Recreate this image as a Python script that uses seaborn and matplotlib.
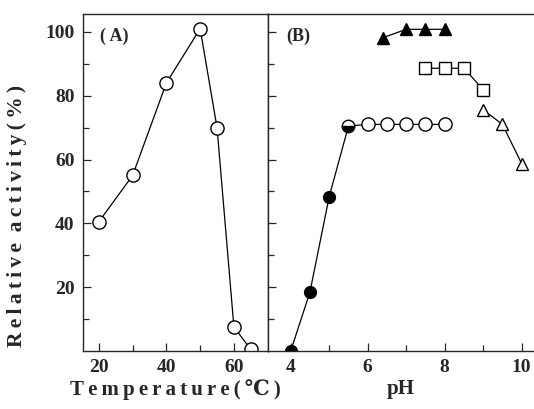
import matplotlib
matplotlib.use("Agg")
import matplotlib.pyplot as plt
import seaborn as sns

# Panel A: temperature profile
temp = [20, 30, 40, 50, 55, 60, 65]
temp_act = [40.5, 55, 84, 101, 70, 7.5, 0.5]

# Panel B: pH profile, one list per buffer
ph_filled = [4, 4.5, 5, 5.5]
act_filled = [0, 18.5, 48.4, 70.5]
ph_open = [5.5, 6, 6.5, 7, 7.5, 8]
act_open = [71, 71, 71, 71, 71, 71]
ph_tri_f = [6.4, 7, 7.5, 8]
act_tri_f = [98.2, 100.8, 100.8, 100.8]
ph_sq = [7.5, 8, 8.5, 9]
act_sq = [88.6, 88.6, 88.6, 81.9]
ph_tri_o = [9, 9.5, 10]
act_tri_o = [75.6, 71, 58.7]


def spaced(s, gap="\u2009"):
    # the printed labels are letter-spaced
    return gap.join(s)


sns.set_style("ticks")
plt.rcParams['font.family'] = ['Liberation Serif', 'DejaVu Serif']
plt.rcParams['font.weight'] = 'bold'

fig = plt.figure(figsize=(5.34, 4.09), dpi=100)
ax1 = fig.add_axes([0.1554, 0.1418, 0.3465, 0.824])
ax2 = fig.add_axes([0.5019, 0.1418, 0.4981, 0.824])

lw = 0.9
mk = dict(markeredgecolor='black', markeredgewidth=1.0)

# (A)
sns.lineplot(x=temp, y=temp_act, ax=ax1, color='black', lw=lw,
             marker='o', markersize=9.5, markerfacecolor='white', **mk)
ax1.set_xlim(15.3, 70.1)
ax1.set_ylim(0, 105.6)
ax1.set_xticks([20, 40, 60])
ax1.set_xticks([30, 50], minor=True)
ax1.set_yticks([20, 40, 60, 80, 100])
ax1.set_yticks([10, 30, 50, 70, 90], minor=True)
ax1.set_xlabel(spaced("Temperature(℃)"), fontsize=15, fontweight='bold', labelpad=2)
ax1.set_ylabel(spaced("Relative") + "  " + spaced("activity(%)"),
               fontsize=15.5, fontweight='bold')
ax1.yaxis.set_label_coords(-0.30, 0.40)
ax1.text(0.09, 0.935, "( A)", transform=ax1.transAxes, fontsize=13,
         fontweight='bold', va='center')

# (B)
sns.lineplot(x=ph_filled + ph_open[1:], y=act_filled + act_open[1:], ax=ax2,
             color='black', lw=lw)
sns.lineplot(x=ph_filled[:-1], y=act_filled[:-1], ax=ax2, color='black',
             linestyle='none', marker='o', markersize=8.5, markerfacecolor='black', **mk)
sns.lineplot(x=ph_filled[-1:], y=act_filled[-1:], ax=ax2, color='black',
             linestyle='none', marker='o', markersize=9, markerfacecolor='black',
             fillstyle='bottom', markerfacecoloralt='white', **mk)
sns.lineplot(x=ph_open[1:], y=act_open[1:], ax=ax2, color='black',
             linestyle='none', marker='o', markersize=9.5, markerfacecolor='white', **mk)
sns.lineplot(x=ph_tri_f, y=act_tri_f, ax=ax2, color='black', lw=lw,
             marker='^', markersize=8, markerfacecolor='black', **mk)
sns.lineplot(x=ph_sq, y=act_sq, ax=ax2, color='black', lw=lw,
             marker='s', markersize=8.5, markerfacecolor='white', **mk)
sns.lineplot(x=ph_tri_o, y=act_tri_o, ax=ax2, color='black', lw=lw,
             marker='^', markersize=9, markerfacecolor='white', **mk)
ax2.set_xlim(3.41, 10.32)
ax2.set_ylim(0, 105.6)
ax2.set_xticks([4, 6, 8, 10])
ax2.set_xticks([5, 7, 9], minor=True)
ax2.set_yticks([20, 40, 60, 80, 100])
ax2.set_yticks([10, 30, 50, 70, 90], minor=True)
ax2.set_yticklabels([])
ax2.set_xlabel("pH", fontsize=15, fontweight='bold', labelpad=2)
ax2.set_ylabel("")
ax2.spines['right'].set_visible(False)
ax2.text(0.07, 0.935, "(B)", transform=ax2.transAxes, fontsize=13,
         fontweight='bold', va='center')

for ax in (ax1, ax2):
    for s in ax.spines.values():
        s.set_linewidth(1.0)
    ax.tick_params(which='both', direction='in', length=6, width=0.9,
                   labelsize=14, top=False, right=False, pad=6)
    ax.tick_params(which='minor', length=4)
    for lab in ax.get_xticklabels() + ax.get_yticklabels():
        lab.set_fontweight('bold')

fig.savefig("out.png", dpi=100)
